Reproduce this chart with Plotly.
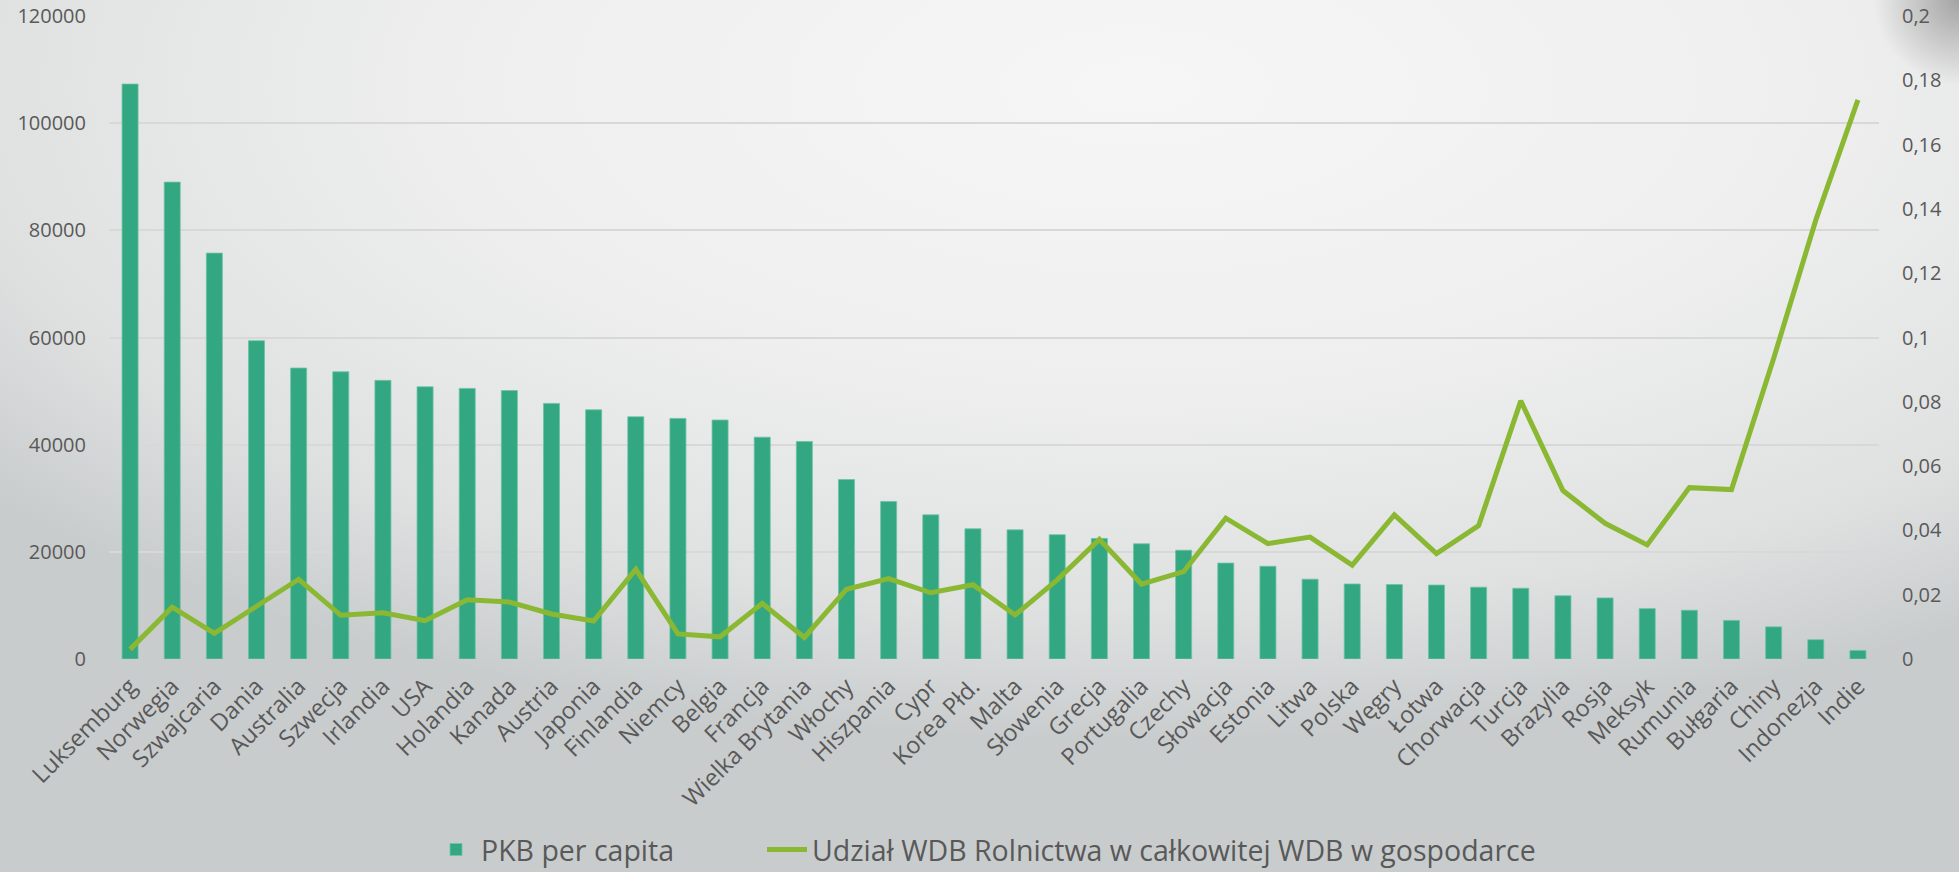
import base64
import plotly.graph_objects as go

countries = ["Luksemburg", "Norwegia", "Szwajcaria", "Dania", "Australia", "Szwecja",
             "Irlandia", "USA", "Holandia", "Kanada", "Austria", "Japonia", "Finlandia",
             "Niemcy", "Belgia", "Francja", "Wielka Brytania", "Włochy", "Hiszpania",
             "Cypr", "Korea Płd.", "Malta", "Słowenia", "Grecja", "Portugalia", "Czechy",
             "Słowacja", "Estonia", "Litwa", "Polska", "Węgry", "Łotwa", "Chorwacja",
             "Turcja", "Brazylia", "Rosja", "Meksyk", "Rumunia", "Bułgaria", "Chiny",
             "Indonezja", "Indie"]

pkb_per_capita = [107300, 89000, 75750, 59400, 54300, 53600, 52000, 50800, 50500, 50100,
                  47700, 46500, 45200, 44900, 44600, 41400, 40600, 33500, 29400, 26900,
                  24300, 24100, 23200, 22500, 21500, 20300, 17900, 17300, 14900, 14000,
                  13900, 13800, 13400, 13200, 11800, 11400, 9400, 9100, 7200, 6000,
                  3600, 1600]

udzial_wdb_rolnictwa = [0.0030, 0.0161, 0.0080, 0.0165, 0.0248, 0.0136, 0.0144, 0.0119,
                        0.0184, 0.0177, 0.0140, 0.0118, 0.0279, 0.0078, 0.0069, 0.0173,
                        0.0067, 0.0217, 0.0250, 0.0206, 0.0231, 0.0137, 0.0246, 0.0372,
                        0.0233, 0.0272, 0.0438, 0.0359, 0.0379, 0.0292, 0.0448, 0.0328,
                        0.0415, 0.0803, 0.0524, 0.0422, 0.0355, 0.0533, 0.0527, 0.0935,
                        0.1365, 0.1739]

left_tickvals = [0, 20000, 40000, 60000, 80000, 100000, 120000]
left_ticktext = ["0", "20000", "40000", "60000", "80000", "100000", "120000"]
right_tickvals = [0, 0.02, 0.04, 0.06, 0.08, 0.1, 0.12, 0.14, 0.16, 0.18, 0.2]
right_ticktext = ["0", "0,02", "0,04", "0,06", "0,08", "0,1", "0,12", "0,14", "0,16", "0,18", "0,2"]

name_bar = "PKB per capita"
name_line = "Udział WDB Rolnictwa w całkowitej WDB w gospodarce"

W, H = 1959, 872
FONT = "Open Sans"
TXT = "#595959"

svg = f'''<svg xmlns="http://www.w3.org/2000/svg" width="{W}" height="{H}" viewBox="0 0 {W} {H}" preserveAspectRatio="none">
<defs>
<radialGradient id="g" cx="0.58" cy="0.1" r="0.75" gradientUnits="objectBoundingBox">
<stop offset="0" stop-color="#f6f6f6"/>
<stop offset="0.45" stop-color="#efefef"/>
<stop offset="0.8" stop-color="#dfe1e1"/>
<stop offset="1" stop-color="#c9cccd"/>
</radialGradient>
<radialGradient id="s" cx="{W}" cy="0" r="85" gradientUnits="userSpaceOnUse">
<stop offset="0" stop-color="#8c8c8c" stop-opacity="0.75"/>
<stop offset="1" stop-color="#8c8c8c" stop-opacity="0"/>
</radialGradient>
</defs>
<rect x="0" y="0" width="{W}" height="{H}" fill="url(#g)"/>
<rect x="0" y="0" width="{W}" height="{H}" fill="url(#s)"/>
</svg>'''
bg_uri = "data:image/svg+xml;base64," + base64.b64encode(svg.encode("utf-8")).decode("ascii")

fig = go.Figure()
fig.add_trace(go.Bar(
    x=countries, y=pkb_per_capita, name=name_bar,
    marker=dict(color="#33a682", line=dict(color="#6cc4a3", width=0.8)),
    yaxis="y", legend="legend",
))
fig.add_trace(go.Scatter(
    x=countries, y=udzial_wdb_rolnictwa, name=name_line, mode="lines",
    line=dict(color="#8ab833", width=5),
    yaxis="y2", legend="legend2",
))

x0, x1 = 109 / W, 1879 / W
y0, y1 = 1 - 659 / H, 1 - 16 / H

legend_common = dict(
    orientation="h", xref="paper", yref="paper", xanchor="left",
    y=22 / H, yanchor="middle",
    font=dict(family=FONT, size=28.5, color=TXT),
    bgcolor="rgba(0,0,0,0)", itemwidth=40,
)

fig.update_layout(
    width=W, height=H,
    margin=dict(l=0, r=0, t=0, b=0, autoexpand=False),
    paper_bgcolor="#e4e6e6",
    plot_bgcolor="rgba(0,0,0,0)",
    font=dict(family=FONT, color=TXT, size=20),
    bargap=0.62,
    showlegend=True,
    legend=dict(x=431 / W, **legend_common),
    legend2=dict(x=762 / W, **legend_common),
    xaxis=dict(
        domain=[x0, x1], type="category", tickangle=-45,
        tickfont=dict(family=FONT, size=23.5, color=TXT),
        showgrid=False, showline=False, zeroline=False, ticks="",
        ticklabelstandoff=8, automargin=False,
    ),
    yaxis=dict(
        domain=[y0, y1], range=[0, 120000],
        tickmode="array", tickvals=left_tickvals, ticktext=left_ticktext,
        tickfont=dict(family=FONT, size=20, color=TXT),
        showgrid=True, gridcolor="#d8d8d8", gridwidth=1.5,
        zeroline=False, showline=False, ticks="",
        ticklabelstandoff=22, automargin=False,
    ),
    yaxis2=dict(
        overlaying="y", side="right", anchor="x", range=[0, 0.2],
        tickmode="array", tickvals=right_tickvals, ticktext=right_ticktext,
        tickfont=dict(family=FONT, size=20, color=TXT),
        showgrid=False, zeroline=False, showline=False, ticks="",
        ticklabelstandoff=22, automargin=False,
    ),
    images=[dict(
        source=bg_uri, xref="paper", yref="paper", x=0, y=1,
        sizex=1, sizey=1, sizing="stretch", layer="below",
        xanchor="left", yanchor="top",
    )],
)

fig.write_html(
    "out.html",
    config={"displayModeBar": False},
    post_script="document.body.style.margin='0';document.body.style.padding='0';document.body.style.overflow='hidden';",
)
